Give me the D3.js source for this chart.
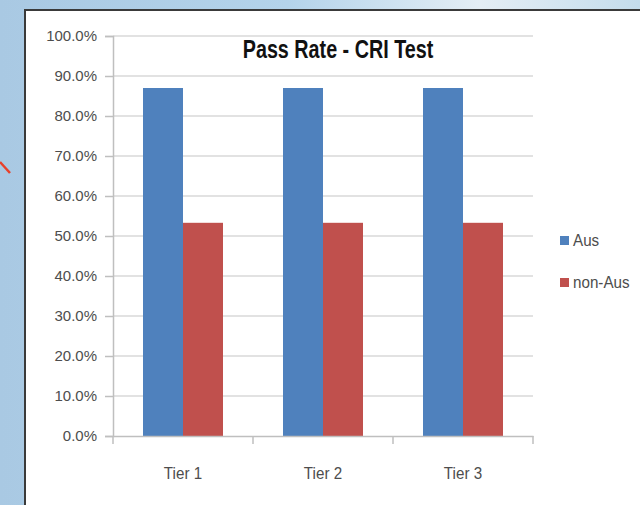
<!DOCTYPE html>
<html>
<head>
<meta charset="utf-8">
<script src="https://cdn.jsdelivr.net/npm/d3@7"></script>
<style>
  body { margin: 0; padding: 0; overflow: hidden; }
  svg { display: block; }
  text { font-family: "Liberation Sans", Arial, sans-serif; }
</style>
</head>
<body>
<div id="chart"></div>
<script>
var categories = ["Tier 1", "Tier 2", "Tier 3"]
var seriesNames = ["Aus", "non-Aus"]
var ausValues = [0.870, 0.870, 0.870]
var nonAusValues = [0.533, 0.533, 0.533]
var yTicks = [0, 0.1, 0.2, 0.3, 0.4, 0.5, 0.6, 0.7, 0.8, 0.9, 1.0]

var colors = {}
colors["Aus"] = "#4f81bd"
colors["non-Aus"] = "#c0504d"

document.addEventListener("DOMContentLoaded", function() {
  draw()
});

function draw(){
  var width = 640, height = 505
  var svg = d3.select("#chart").append("svg")
    .attr("width", width)
    .attr("height", height)

  // sky background behind the chart box
  var defs = svg.append("defs")
  var grad = defs.append("linearGradient").attr("id", "sky")
    .attr("x1", "0").attr("y1", "0").attr("x2", "1").attr("y2", "0")
  grad.append("stop").attr("offset", "0%").attr("stop-color", "#a9c9e3")
  grad.append("stop").attr("offset", "45%").attr("stop-color", "#b4d3ea")
  grad.append("stop").attr("offset", "75%").attr("stop-color", "#e4eef5")
  grad.append("stop").attr("offset", "100%").attr("stop-color", "#c4dcec")
  svg.append("rect").attr("width", width).attr("height", height).attr("fill", "url(#sky)")

  // little red arrow stub on the left edge
  svg.append("line")
    .attr("x1", 0).attr("y1", 162).attr("x2", 10).attr("y2", 173)
    .attr("stroke", "#e8402a").attr("stroke-width", 2.5)

  // chart box
  svg.append("rect")
    .attr("x", 25).attr("y", 10).attr("width", 640).attr("height", 520)
    .attr("fill", "#ffffff")
    .attr("stroke", "#3a3a3a").attr("stroke-width", 2)

  var margin = {left: 113, right: 107, top: 36, bottom: 69}
  var plotW = width - margin.left - margin.right
  var plotH = height - margin.top - margin.bottom

  var g = svg.append("g").attr("transform", "translate(" + margin.left + "," + margin.top + ")")

  var x0 = d3.scaleBand().domain(categories).range([0, plotW]).paddingInner(0).paddingOuter(0)
  var x1 = d3.scaleBand().domain(seriesNames).range([0, x0.bandwidth()]).paddingOuter(0.75).paddingInner(0)
  var y = d3.scaleLinear().domain([0, 1]).range([plotH, 0])

  // gridlines
  g.selectAll("line.grid")
    .data(yTicks.slice(1))
    .enter().append("line")
    .attr("class", "grid")
    .attr("x1", 0).attr("x2", plotW)
    .attr("y1", function(d){ return y(d) }).attr("y2", function(d){ return y(d) })
    .attr("stroke", "#d9d9d9").attr("stroke-width", 1.5)

  var data = categories.map(function(c, i){
    return {cat: c, values: [{s: "Aus", v: ausValues[i]}, {s: "non-Aus", v: nonAusValues[i]}]}
  })

  var groups = g.selectAll("g.cat")
    .data(data).enter().append("g")
    .attr("class", "cat")
    .attr("transform", function(d){ return "translate(" + x0(d.cat) + ",0)" })

  groups.selectAll("rect")
    .data(function(d){ return d.values })
    .enter().append("rect")
    .attr("x", function(d){ return x1(d.s) })
    .attr("width", x1.bandwidth())
    .attr("y", function(d){ return y(d.v) })
    .attr("height", function(d){ return plotH - y(d.v) })
    .attr("fill", function(d){ return colors[d.s] })

  // y axis
  var yAxis = d3.axisLeft(y).tickValues(yTicks).tickSize(8).tickPadding(8)
    .tickFormat(function(d){ return (d * 100).toFixed(1) + "%" })
  var ya = g.append("g").call(yAxis)
  ya.select(".domain").attr("stroke", "#bfbfbf").attr("stroke-width", 1.5)
  ya.selectAll(".tick line").attr("stroke", "#bfbfbf").attr("stroke-width", 1.5)
  ya.selectAll(".tick text").attr("fill", "#4d4d4d")
    .attr("font-family", "Liberation Sans, sans-serif").attr("font-size", 15)
    .attr("x", 0).attr("transform", "translate(-16,0)")

  // x axis
  var xa = g.append("g").attr("transform", "translate(0," + plotH + ")")
    .call(d3.axisBottom(x0).tickSize(0).tickPadding(30))
  xa.select(".domain").attr("stroke", "#bfbfbf").attr("stroke-width", 1.5)
  xa.selectAll(".tick text").attr("fill", "#4d4d4d")
    .attr("font-family", "Liberation Sans, sans-serif").attr("font-size", 16)
    .attr("y", 0).attr("dy", 0).attr("transform", "translate(0,43) scale(0.95,1)")

  // category separator ticks
  g.selectAll("line.xtick")
    .data(categories.concat(["end"]))
    .enter().append("line")
    .attr("class", "xtick")
    .attr("x1", function(d, i){ return i * x0.step() })
    .attr("x2", function(d, i){ return i * x0.step() })
    .attr("y1", plotH).attr("y2", plotH + 8)
    .attr("stroke", "#bfbfbf").attr("stroke-width", 1.5)

  // title
  svg.append("text")
    .attr("transform", "translate(338,58) scale(0.79,1)")
    .attr("text-anchor", "middle")
    .attr("fill", "#111")
    .style("font-size", "25px").style("font-weight", "bold")
    .text("Pass Rate - CRI Test")

  // legend
  var legend = svg.selectAll("g.legend")
    .data(seriesNames).enter().append("g")
    .attr("class", "legend")
    .attr("transform", function(d, i){ return "translate(560," + (236 + i * 42) + ")" })
  legend.append("rect").attr("width", 9).attr("height", 9)
    .attr("fill", function(d){ return colors[d] })
  legend.append("text").attr("transform", "translate(13,10) scale(0.95,1)")
    .attr("fill", "#4d4d4d").style("font-size", "16px")
    .text(function(d){ return d })
}
</script>
</body>
</html>
